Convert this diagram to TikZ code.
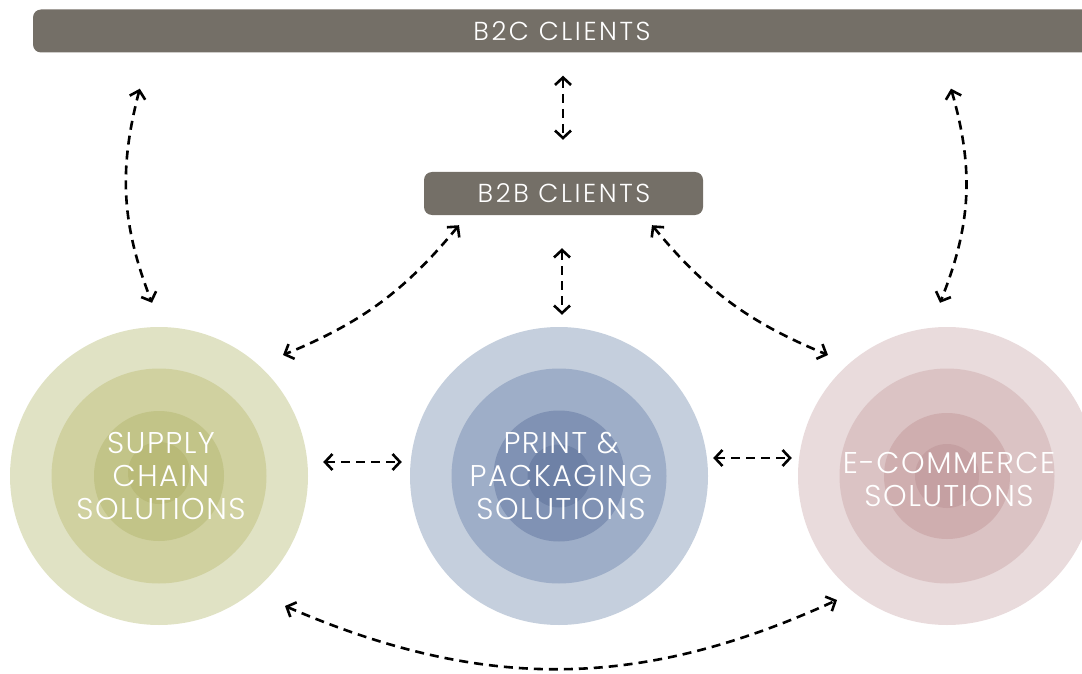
\documentclass[tikz,border=0pt]{standalone}
\usepackage{fontspec}
\setmainfont{Poppins}[UprightFont=* Light]
\newfontfamily\solfont{Poppins}[UprightFont=* Light, LetterSpace=5]
\newfontfamily\clifont{Poppins}[UprightFont=* Light, LetterSpace=10]
\usetikzlibrary{arrows.meta,calc}
\definecolor{barg}{RGB}{116,111,103}
\definecolor{scA}{RGB}{224,226,196}
\definecolor{scB}{RGB}{208,209,160}
\definecolor{scC}{RGB}{194,196,136}
\definecolor{scD}{RGB}{185,186,120}
\definecolor{ppA}{RGB}{197,207,221}
\definecolor{ppB}{RGB}{158,174,200}
\definecolor{ppC}{RGB}{128,146,180}
\definecolor{ppD}{RGB}{110,129,166}
\definecolor{ecA}{RGB}{233,219,220}
\definecolor{ecB}{RGB}{219,195,196}
\definecolor{ecC}{RGB}{207,174,175}
\definecolor{ecD}{RGB}{197,160,162}
\begin{document}
\begin{tikzpicture}[x=1pt,y=-1pt,
  tipx/.tip={Straight Barb[length=7.5pt,width=16pt]},
  conn/.style={draw=black, line width=2.6pt, dash pattern=on 9pt off 6pt, tipx-tipx},
  clientbox/.style={fill=barg, rounded corners=8pt, inner sep=0pt, minimum height=43pt},
  clienttext/.style={text=white, font=\clifont\fontsize{26}{28}\selectfont},
  sol/.style={circle, inner sep=0pt, minimum size=298pt, text=white, align=center,
    font=\solfont\fontsize{30}{33}\selectfont}]
\useasboundingbox (0,0) rectangle (1082,674);
\clip (0,0) rectangle (1082,674);
% B2C bar
\node[clientbox, minimum width=1067pt] (b2cbar) at (566.5,31) {};
\node[clienttext] (b2c) at (562,31) {B2C CLIENTS};
% B2B box
\node[clientbox, minimum width=279pt] (b2b) at (563.5,193.5) {};
\node[clienttext] (b2bt) at (564,193.5) {B2B CLIENTS};
% circles
\node[sol, fill=scA] (sc) at (159,476) {};
\fill[scB] (sc.center) circle (107.5pt);
\fill[scC] (sc.center) circle (65pt);
\fill[scD] ([shift={(0,-3)}]sc.center) circle (31pt);
\node[sol] (sct) at ([shift={(2,0)}]sc.center) {SUPPLY\\CHAIN\\SOLUTIONS};
\node[sol, fill=ppA] (pp) at (559,476) {};
\fill[ppB] (pp.center) circle (107.5pt);
\fill[ppC] (pp.center) circle (65.5pt);
\fill[ppD] (pp.center) circle (31.5pt);
\node[sol] (ppt) at ([shift={(2,0)}]pp.center) {PRINT \&\\PACKAGING\\SOLUTIONS};
\node[sol, fill=ecA] (ec) at (947,476) {};
\fill[ecB] (ec.center) circle (107.5pt);
\fill[ecC] (ec.center) circle (63pt);
\fill[ecD] (ec.center) circle (32pt);
\node[sol] (ect) at ([shift={(2,3)}]ec.center) {E-COMMERCE\\SOLUTIONS};
% connectors
\draw[conn] ([shift={(107,36)}]b2cbar.south west) to[bend right=18] ([shift={(-7,-24)}]sc.north);
\draw[conn] ([shift={(-3.5,23)}]b2cbar.south) -- ([shift={(-0.5,-32)}]b2b.north);
\draw[conn] ([shift={(384.5,36)}]b2cbar.south) to[bend left=19] ([shift={(-7,-24)}]ec.north);
\draw[conn] ([shift={(-104.5,10)}]b2b.south) to[bend left=14] ([shift={(124,-121)}]sc.center);
\draw[conn] ([shift={(-1.5,33)}]b2b.south) -- ([shift={(3,-12)}]pp.north);
\draw[conn] ([shift={(88.5,10)}]b2b.south) to[bend right=14] ([shift={(-119,-121)}]ec.center);
\draw[conn] ([shift={(15,-14)}]sc.east) -- ([shift={(-8,-14)}]pp.west);
\draw[conn] ([shift={(5,-18)}]pp.east) -- ([shift={(-6,-18)}]ec.west);
\draw[conn] ([shift={(126,130)}]sc.center) to[bend right=24] ([shift={(-110,124)}]ec.center);
\end{tikzpicture}
\end{document}
